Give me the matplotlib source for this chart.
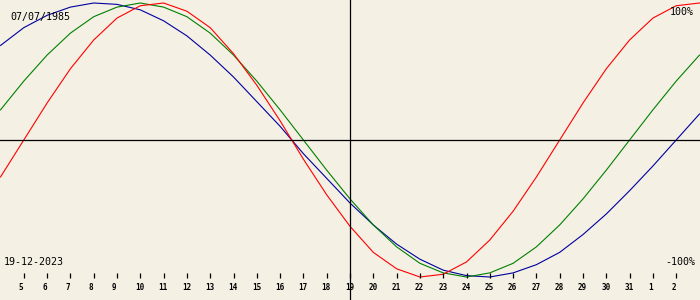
import matplotlib.pyplot as plt
import matplotlib.transforms as mtransforms

# days shown (day of December, 32 = Jan 1, 33 = Jan 2 ...)
days = list(range(4, 35))
tick_days = list(range(5, 34))
tick_labels = [str(d) for d in range(5, 32)] + ['1', '2']

# values, -1..1
physical = [-0.27, 0.0, 0.27, 0.52, 0.73, 0.89, 0.98, 1.0, 0.94, 0.82, 0.63,
            0.40, 0.14, -0.14, -0.40, -0.63, -0.82, -0.94, -1.0, -0.98, -0.89,
            -0.73, -0.52, -0.27, 0.0, 0.27, 0.52, 0.73, 0.89, 0.98, 1.0]
emotional = [0.22, 0.43, 0.62, 0.78, 0.90, 0.97, 1.0, 0.97, 0.90, 0.78, 0.62,
             0.43, 0.22, 0.0, -0.22, -0.43, -0.62, -0.78, -0.90, -0.97, -1.0,
             -0.97, -0.90, -0.78, -0.62, -0.43, -0.22, 0.0, 0.22, 0.43, 0.62]
intellectual = [0.69, 0.82, 0.91, 0.97, 1.0, 0.99, 0.95, 0.87, 0.76, 0.62, 0.46,
                0.28, 0.10, -0.10, -0.28, -0.46, -0.62, -0.76, -0.87, -0.95, -0.99,
                -1.0, -0.97, -0.91, -0.82, -0.69, -0.54, -0.37, -0.19, 0.0, 0.19]

birth = '07/07/1985'
today = '19-12-2023'
center_day = 19

bg = '#f4f0e4'
W, H = 700, 300
px_day = 23.3
amp = 137.0
mid = 140.0

fig = plt.figure(figsize=(7, 3), dpi=100, facecolor=bg)
ax = fig.add_axes([0, 0, 1, 1], facecolor=bg)
ax.set_xlim(center_day - (W / 2) / px_day, center_day + (W / 2) / px_day)
ax.set_ylim((mid - H) / amp, mid / amp)
ax.axis('off')

ax.plot(days, intellectual, color='#0000a0', lw=0.8)
ax.plot(days, emotional, color='#008000', lw=0.8)
ax.plot(days, physical, color='#ff0000', lw=0.8)

ax.axhline(0, color='black', lw=0.9)
ax.axvline(center_day, color='black', lw=0.9)

trans = mtransforms.blended_transform_factory(ax.transData, ax.transAxes)
ax.vlines(tick_days, (H - 278) / H, (H - 273) / H, color='black', lw=0.9,
          transform=trans)
off = mtransforms.offset_copy(trans, fig=fig, x=-5, y=0, units='dots')
for d, lab in zip(tick_days, tick_labels):
    ax.text(d, (H - 288) / H, lab, transform=off, ha='left', va='center',
            family='DejaVu Sans Mono', fontsize=5.5, fontweight='bold')

font = dict(family='DejaVu Sans Mono', fontsize=7.2, va='center')
fig.text(10 / W, 1 - 17 / H, birth, ha='left', **font)
fig.text(4 / W, 1 - 262 / H, today, ha='left', **font)
fig.text(694 / W, 1 - 12 / H, '100%', ha='right', **font)
fig.text(695 / W, 1 - 262 / H, '-100%', ha='right', **font)

fig.savefig('out.png', dpi=100, facecolor=bg)
